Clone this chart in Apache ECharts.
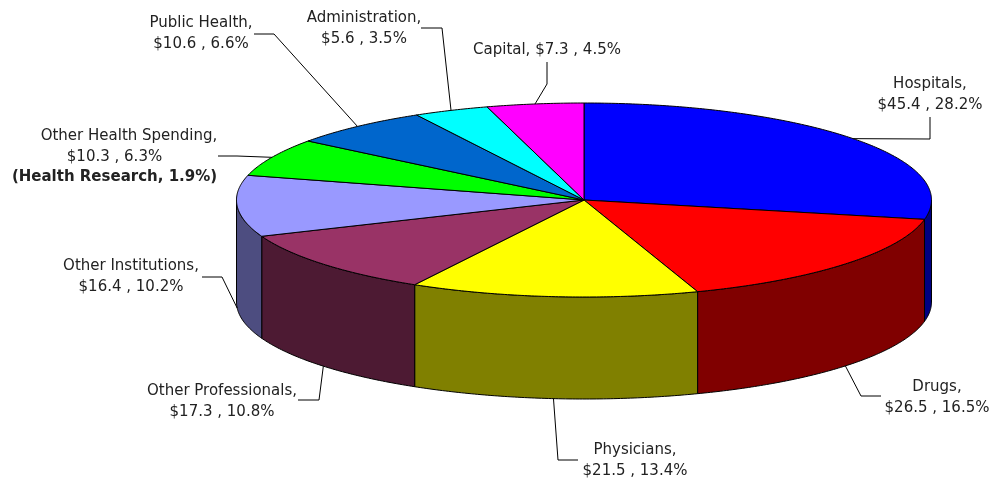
<!DOCTYPE html>
<html>
<head>
<meta charset="utf-8">
<style>
  html, body { margin: 0; padding: 0; background: #fff; }
  #main { width: 992px; height: 479px; }
</style>
<script src="https://cdn.jsdelivr.net/npm/echarts@6/dist/echarts.min.js"></script>
</head>
<body>
<div id="main"></div>
<script>
var categories = ["Hospitals", "Drugs", "Physicians", "Other Professionals", "Other Institutions", "Other Health Spending", "Public Health", "Administration", "Capital"];
var dollars = [45.4, 26.5, 21.5, 17.3, 16.4, 10.3, 10.6, 5.6, 7.3];
var shares = [28.2, 16.5, 13.4, 10.8, 10.2, 6.3, 6.6, 3.5, 4.5];
var extraNote = "(Health Research, 1.9%)"; // only under Other Health Spending

var topColors = ["#0000ff", "#ff0000", "#ffff00", "#993366", "#9999ff", "#00ff00", "#0066cc", "#00ffff", "#ff00ff"];
var wallColors = ["#000080", "#800000", "#808000", "#4d1a33", "#4d4d80", "#008000", "#003366", "#008080", "#800080"];

// pie geometry
var cx = 584, cy = 200, rx = 347.5, ry = 97, depth = 102;

// label layout: text centre, first line y, leader elbow and end, and if the label stays on one line
var labelLayout = [
  { x: 930, y: 84, elbow: [930, 139], end: [930, 117] },
  { x: 937, y: 387, elbow: [861, 396], end: [881, 396] },
  { x: 635, y: 450, elbow: [558, 460], end: [578, 460] },
  { x: 222, y: 391, elbow: [319, 400], end: [298, 400] },
  { x: 131, y: 266, elbow: [222, 277], end: [202, 277] },
  { x: 129, y: 136, elbow: [237, 156], end: [218, 156], restX: 114.5 }, // lines 2 and 3 sit further left
  { x: 201, y: 23, elbow: [274, 34], end: [254, 34] },
  { x: 364, y: 18, elbow: [442, 28], end: [421, 28] },
  { x: 547, y: 50, elbow: [547, 84], end: [547, 62], oneLine: true }
];

var total = shares.reduce(function (a, b) { return a + b; }, 0);
var startAngles = [];
var sum = 0;
shares.forEach(function (s) {
  startAngles.push(sum / total * 2 * Math.PI);
  sum += s;
});

// angle is clockwise from 12 o'clock
function rimPoint(angle, drop) {
  return [cx + rx * Math.sin(angle), cy - ry * Math.cos(angle) + (drop || 0)];
}

function arcPoints(from, to, drop) {
  var pts = [];
  var steps = Math.max(2, Math.ceil((to - from) / 0.01));
  for (var i = 0; i <= steps; i++) {
    pts.push(rimPoint(from + (to - from) * i / steps, drop));
  }
  return pts;
}

function renderSlice(params, api) {
  var i = api.value(0);
  var from = startAngles[i];
  var to = from + api.value(1) / total * 2 * Math.PI;
  var children = [];
  // side wall only on the front half of the pie
  var wallFrom = Math.max(from, Math.PI / 2);
  var wallTo = Math.min(to, Math.PI * 1.5);
  if (wallTo > wallFrom) {
    children.push({
      type: "polygon",
      shape: { points: arcPoints(wallFrom, wallTo, 0).concat(arcPoints(wallFrom, wallTo, depth).reverse()) },
      style: { fill: wallColors[i], stroke: "#000", lineWidth: 1 }
    });
  }
  children.push({
    type: "polygon",
    shape: { points: [[cx, cy]].concat(arcPoints(from, to, 0)) },
    style: { fill: topColors[i], stroke: "#000", lineWidth: 1 }
  });
  return { type: "group", children: children };
}

function labelLines(i) {
  var name = categories[i] + ",";
  var amount = "$" + dollars[i].toFixed(1) + " , " + shares[i].toFixed(1) + "%";
  if (labelLayout[i].oneLine) return [name + " " + amount];
  var lines = [name, amount];
  if (i === 5) lines.push(extraNote);
  return lines;
}

function renderLabel(params, api) {
  var i = api.value(0);
  var layout = labelLayout[i];
  var mid = startAngles[i] + api.value(1) / total * Math.PI;
  // front slices take the leader from the lower rim
  var drop = Math.cos(mid) < 0 ? depth : 0;
  var children = [{
    type: "polyline",
    shape: { points: [rimPoint(mid, drop), layout.elbow, layout.end] },
    style: { fill: null, stroke: "#000", lineWidth: 1 }
  }];
  labelLines(i).forEach(function (line, n) {
    children.push({
      type: "text",
      style: {
        text: line,
        x: n > 0 && layout.restX ? layout.restX : layout.x,
        y: layout.y + n * 20.7,
        textAlign: "center",
        textVerticalAlign: "middle",
        fill: "#222",
        font: (line === extraNote ? "bold " : "") + "15px 'DejaVu Sans'"
      }
    });
  });
  return { type: "group", children: children };
}

var rows = shares.map(function (s, i) { return [i, s]; });

var chart = echarts.init(document.getElementById("main"), null, { renderer: "canvas" });
chart.setOption({
  backgroundColor: "#fff",
  animation: false,
  tooltip: { show: false },
  series: [
    { type: "custom", coordinateSystem: "none", renderItem: renderSlice, data: rows, z: 2, silent: true },
    { type: "custom", coordinateSystem: "none", renderItem: renderLabel, data: rows, z: 3, silent: true }
  ]
});
</script>
</body>
</html>
